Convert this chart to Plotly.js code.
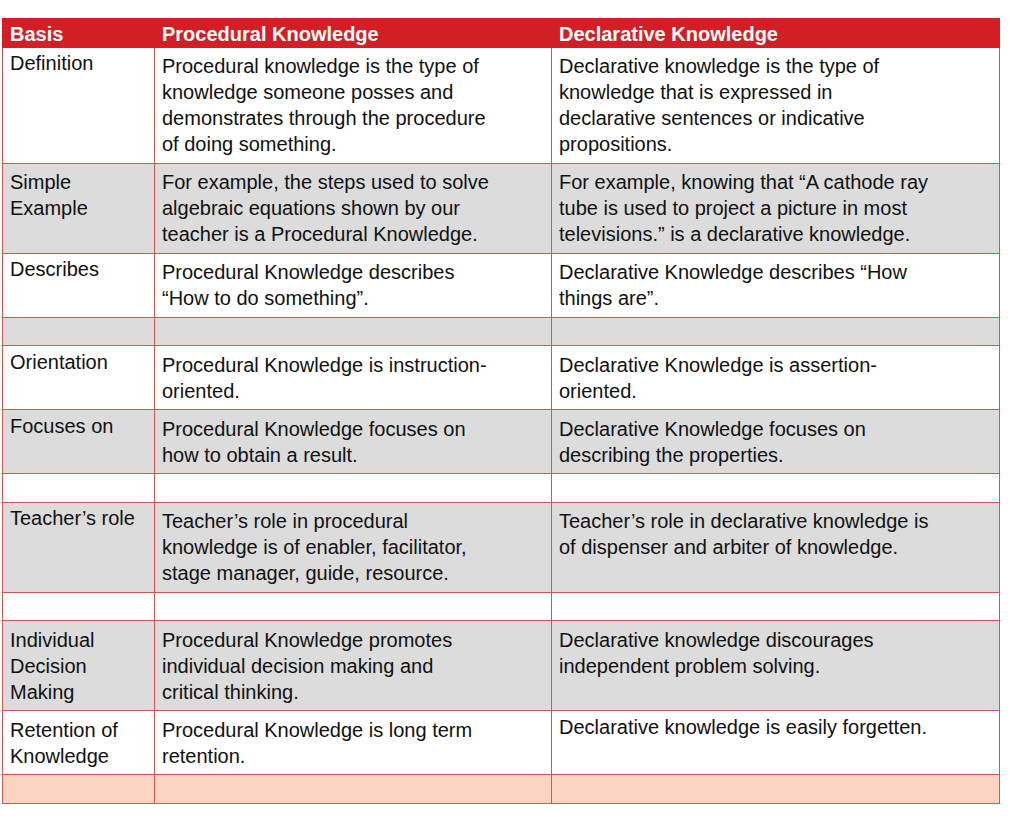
<!DOCTYPE html>
<html>
<head>
<meta charset="utf-8">
<script src="https://cdn.plot.ly/plotly-3.0.1.min.js"></script>
<style>body{margin:0;background:#fff}</style>
</head>
<body>
<div id="chart" style="width:1026px;height:822px"></div>
<script>
const headers = ['Basis', 'Procedural Knowledge', 'Declarative Knowledge'];

const basis = [
  'Definition', 'Simple<br>Example', 'Describes', '', 'Orientation', 'Focuses on', '',
  'Teacher’s role', '', 'Individual<br>Decision<br>Making', 'Retention of<br>Knowledge', ''
];

const procedural = [
  'Procedural knowledge is the type of<br>knowledge someone posses and<br>demonstrates through the procedure<br>of doing something.',
  'For example, the steps used to solve<br>algebraic equations shown by our<br>teacher is a Procedural Knowledge.',
  'Procedural Knowledge describes<br>“How to do something”.',
  '',
  'Procedural Knowledge is instruction-<br>oriented.',
  'Procedural Knowledge focuses on<br>how to obtain a result.',
  '',
  'Teacher’s role in procedural<br>knowledge is of enabler, facilitator,<br>stage manager, guide, resource.',
  '',
  'Procedural Knowledge promotes<br>individual decision making and<br>critical thinking.',
  'Procedural Knowledge is long term<br>retention.',
  ''
];

const declarative = [
  'Declarative knowledge is the type of<br>knowledge that is expressed in<br>declarative sentences or indicative<br>propositions.',
  'For example, knowing that “A cathode ray<br>tube is used to project a picture in most<br>televisions.” is a declarative knowledge.',
  'Declarative Knowledge describes “How<br>things are”.',
  '',
  'Declarative Knowledge is assertion-<br>oriented.',
  'Declarative Knowledge focuses on<br>describing the properties.',
  '',
  'Teacher’s role in declarative knowledge is<br>of dispenser and arbiter of knowledge.',
  '',
  'Declarative knowledge discourages<br>independent problem solving.',
  'Declarative knowledge is easily forgetten.',
  ''
];

const rowFill = ['#ffffff', '#dcdcdc', '#ffffff', '#dcdcdc', '#ffffff', '#dcdcdc',
  '#ffffff', '#dcdcdc', '#ffffff', '#dcdcdc', '#ffffff', '#fbd3c3'];

const trace = {
  type: 'table',
  columnwidth: [152, 397, 448],
  domain: { x: [2 / 1026, 999 / 1026], y: [0, 1 - 18 / 822] },
  header: {
    values: headers,
    align: 'left',
    height: 29,
    fill: { color: '#d21f26' },
    line: { color: '#d21f26', width: 1 },
    font: { family: 'Liberation Sans', size: 20, color: '#ffffff', weight: 'bold' }
  },
  cells: {
    values: [basis, procedural, declarative],
    align: 'left',
    height: 28.5,
    fill: { color: [rowFill, rowFill, rowFill] },
    line: { color: '#d9534f', width: 1 },
    font: { family: 'Liberation Sans', size: 20, color: '#111111' }
  }
};

Plotly.newPlot('chart', [trace], {
  width: 1026,
  height: 822,
  margin: { l: 0, r: 0, t: 0, b: 0 },
  paper_bgcolor: '#ffffff'
}, { displayModeBar: false });
</script>
</body>
</html>
